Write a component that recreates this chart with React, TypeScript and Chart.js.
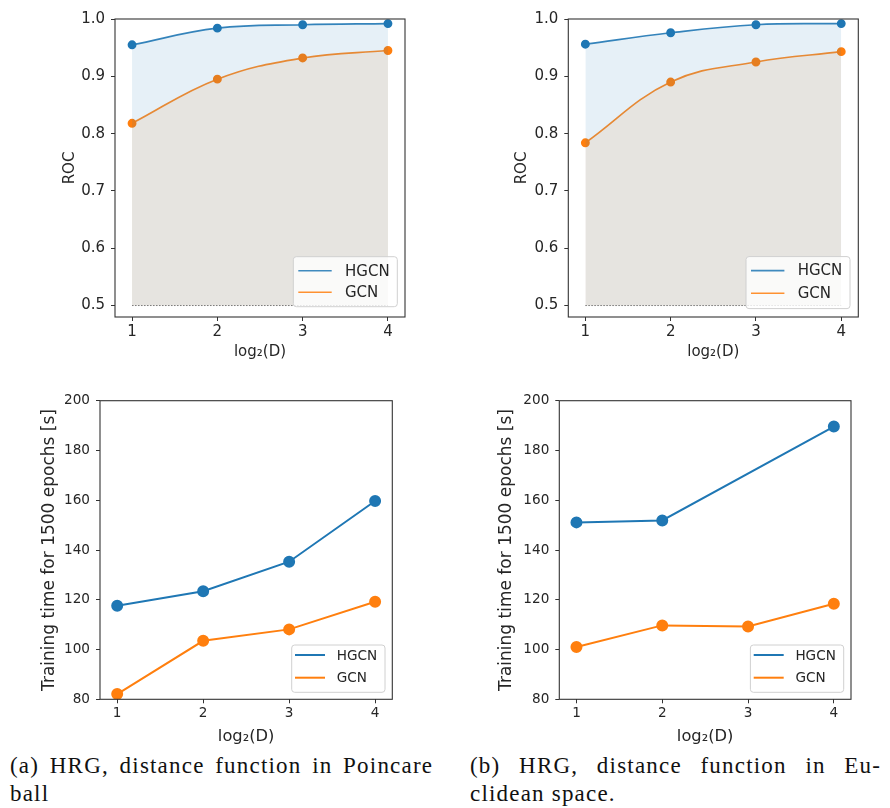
import React, { useEffect, useRef } from "react";
import { Chart, registerables } from "chart.js";

Chart.register(...registerables);

// ---------- data ----------
const dims = [1, 2, 3, 4];
const xTickValues = [1, 2, 3, 4];

const rocTicks = [0.5, 0.6, 0.7, 0.8, 0.9, 1.0];
const rocBaseline = [0.5, 0.5, 0.5, 0.5];
const rocPoincareHGCN = [0.955, 0.984, 0.99, 0.992];
const rocPoincareGCN = [0.818, 0.895, 0.932, 0.945];
const rocEuclidHGCN = [0.956, 0.976, 0.99, 0.992];
const rocEuclidGCN = [0.784, 0.89, 0.925, 0.943];

const timeTicks = [80, 100, 120, 140, 160, 180, 200];
const timePoincareHGCN = [117.6, 123.4, 135.3, 159.7];
const timePoincareGCN = [82.1, 103.5, 108.1, 119.2];
const timeEuclidHGCN = [151.1, 151.9, null, 189.6];
const timeEuclidGCN = [101.0, 109.7, 109.3, 118.4];

const seriesNames = ["HGCN", "GCN"];
const captionA = ["(a) HRG, distance function in Poincare", "ball"];
const captionB = ["(b) HRG, distance function in Eu-", "clidean space."];

const BLUE = "#1f77b4";
const ORANGE = "#ff7f0e";
const TXT = "#262626";
const FONT = "'DejaVu Sans', sans-serif";

type Panel = {
  left: number;
  top: number;
  width: number;
  height: number;
  area: { left: number; top: number; right: number; bottom: number };
  kind: "roc" | "time";
  hgcn: (number | null)[];
  gcn: (number | null)[];
  yTitle: string;
  yTitlePad: number;
  xTitlePad: number;
  tickFont: number;
  titleFont: number;
  xTitleFont: number;
  legend: {
    gapR: number;
    gapB: number;
    w: number;
    h: number;
    lineX0: number;
    lineX1: number;
    textX: number;
    row1: number;
    row2: number;
    lw: number;
  };
};

const panels: Panel[] = [
  {
    left: 0, top: 0, width: 445, height: 370,
    area: { left: 115, top: 19, right: 405, bottom: 317 },
    kind: "roc", hgcn: rocPoincareHGCN, gcn: rocPoincareGCN,
    yTitle: "ROC", yTitlePad: 61, xTitlePad: 9, tickFont: 15, titleFont: 15, xTitleFont: 15,
    legend: { gapR: 7.7, gapB: 10.3, w: 104, h: 50, lineX0: 5, lineX1: 38.4, textX: 51.7, row1: 14, row2: 35.6, lw: 1.6 },
  },
  {
    left: 445, top: 0, width: 445, height: 370,
    area: { left: 123.3, top: 19, right: 413.3, bottom: 317 },
    kind: "roc", hgcn: rocEuclidHGCN, gcn: rocEuclidGCN,
    yTitle: "ROC", yTitlePad: 68.5, xTitlePad: 9, tickFont: 15, titleFont: 15, xTitleFont: 15,
    legend: { gapR: 8.3, gapB: 8.4, w: 104, h: 52, lineX0: 5, lineX1: 38.4, textX: 51.7, row1: 14, row2: 36.6, lw: 1.6 },
  },
  {
    left: 0, top: 380, width: 445, height: 368,
    area: { left: 100, top: 20.7, right: 392.3, bottom: 319.3 },
    kind: "time", hgcn: timePoincareHGCN, gcn: timePoincareGCN,
    yTitle: "Training time for 1500 epochs [s]", yTitlePad: 39, xTitlePad: 1.5, tickFont: 13.6, titleFont: 17, xTitleFont: 16.3,
    legend: { gapR: 7.3, gapB: 7, w: 93.3, h: 47.3, lineX0: 3.3, lineX1: 33.3, textX: 45, row1: 10, row2: 32.7, lw: 2 },
  },
  {
    left: 445, top: 380, width: 445, height: 368,
    area: { left: 114.3, top: 20.7, right: 406, bottom: 319.3 },
    kind: "time", hgcn: timeEuclidHGCN, gcn: timeEuclidGCN,
    yTitle: "Training time for 1500 epochs [s]", yTitlePad: 51, xTitlePad: 1.5, tickFont: 13.6, titleFont: 17, xTitleFont: 16.3,
    legend: { gapR: 7.3, gapB: 7, w: 93.3, h: 47.3, lineX0: 3.3, lineX1: 33.3, textX: 45, row1: 10, row2: 32.7, lw: 2 },
  },
];

function toPoints(vals: (number | null)[]) {
  return dims.map((d, i) => ({ x: d, y: vals[i] }));
}

function ChartPanel({ p }: { p: Panel }) {
  const ref = useRef<HTMLCanvasElement | null>(null);
  useEffect(() => {
    const canvas = ref.current;
    if (!canvas) return;
    const isRoc = p.kind === "roc";
    const yTicks = isRoc ? rocTicks : timeTicks;
    const datasets: any[] = [];
    if (isRoc) {
      datasets.push({
        label: "baseline",
        data: toPoints(rocBaseline),
        borderColor: "#555555",
        borderWidth: 0.8,
        borderDash: [1.5, 1.5],
        pointRadius: 0,
        fill: false,
        tension: 0,
      });
      datasets.push({
        label: seriesNames[0],
        data: toPoints(p.hgcn),
        borderColor: "rgba(31,119,180,0.9)",
        backgroundColor: "rgba(31,119,180,0.11)",
        pointBackgroundColor: BLUE,
        pointBorderColor: BLUE,
        borderWidth: 1.7,
        pointRadius: 3.6,
        fill: { value: 0.5 },
        tension: 0.4,
      });
      datasets.push({
        label: seriesNames[1],
        data: toPoints(p.gcn),
        borderColor: "rgba(255,127,14,0.9)",
        backgroundColor: "rgba(255,127,14,0.11)",
        pointBackgroundColor: ORANGE,
        pointBorderColor: ORANGE,
        borderWidth: 1.7,
        pointRadius: 3.6,
        fill: { value: 0.5 },
        tension: 0.4,
      });
    } else {
      datasets.push({
        label: seriesNames[0],
        data: toPoints(p.hgcn),
        borderColor: BLUE,
        pointBackgroundColor: BLUE,
        pointBorderColor: BLUE,
        borderWidth: 2,
        pointRadius: 5,
        fill: false,
        spanGaps: true,
        tension: 0,
      });
      datasets.push({
        label: seriesNames[1],
        data: toPoints(p.gcn),
        borderColor: ORANGE,
        pointBackgroundColor: ORANGE,
        pointBorderColor: ORANGE,
        borderWidth: 2,
        pointRadius: 5,
        fill: false,
        tension: 0,
      });
    }

    const framePlugin = {
      id: "frameAndLegend",
      afterDatasetsDraw(chart: any) {
        const { ctx, chartArea: a } = chart;
        ctx.save();
        ctx.strokeStyle = "#333333";
        ctx.lineWidth = 1.1;
        ctx.strokeRect(a.left, a.top, a.right - a.left, a.bottom - a.top);
        // legend
        const L = p.legend;
        const bx = a.right - L.gapR - L.w;
        const by = a.bottom - L.gapB - L.h;
        ctx.beginPath();
        (ctx as any).roundRect(bx, by, L.w, L.h, 3);
        ctx.fillStyle = "rgba(255,255,255,0.8)";
        ctx.fill();
        ctx.strokeStyle = "#d0d0d0";
        ctx.lineWidth = 1;
        ctx.stroke();
        const rows = [L.row1, L.row2];
        const cols = isRoc ? ["rgba(31,119,180,0.85)", "rgba(255,127,14,0.85)"] : [BLUE, ORANGE];
        ctx.font = `${p.tickFont}px ${FONT}`;
        ctx.textBaseline = "middle";
        ctx.textAlign = "left";
        rows.forEach((r, i) => {
          ctx.strokeStyle = cols[i];
          ctx.lineWidth = L.lw;
          ctx.beginPath();
          ctx.moveTo(bx + L.lineX0, by + r);
          ctx.lineTo(bx + L.lineX1, by + r);
          ctx.stroke();
          ctx.fillStyle = TXT;
          ctx.fillText(seriesNames[i], bx + L.textX, by + r + 1);
        });
        ctx.restore();
      },
    };

    const chart = new Chart(canvas, {
      type: "line",
      data: { datasets },
      options: {
        animation: false,
        responsive: false,
        maintainAspectRatio: false,
        devicePixelRatio: 1,
        layout: {
          padding: {
            left: 0,
            top: p.area.top,
            right: p.width - p.area.right,
            bottom: 0,
          },
        },
        plugins: {
          legend: { display: false },
          tooltip: { enabled: false },
        },
        scales: {
          x: {
            type: "linear",
            min: 0.8,
            max: 4.2,
            afterFit: (s: any) => {
              s.height = p.height - p.area.bottom;
            },
            afterBuildTicks: (s: any) => {
              s.ticks = xTickValues.map((v) => ({ value: v }));
            },
            grid: {
              drawOnChartArea: false,
              drawTicks: true,
              tickLength: 4,
              tickWidth: 1,
              color: "#333333",
            },
            border: { display: false },
            ticks: {
              color: TXT,
              font: { family: FONT, size: p.tickFont },
              padding: 2,
              maxRotation: 0,
              callback: (v: any) => String(v),
            },
            title: {
              display: true,
              text: "log\u2082(D)",
              color: TXT,
              font: { family: FONT, size: p.xTitleFont },
              padding: { top: 0, bottom: p.xTitlePad },
            },
          },
          y: {
            type: "linear",
            min: isRoc ? 0.48 : 80,
            max: isRoc ? 1.0 : 200,
            afterFit: (s: any) => {
              s.width = p.area.left;
            },
            afterBuildTicks: (s: any) => {
              s.ticks = yTicks.map((v) => ({ value: v }));
            },
            grid: {
              drawOnChartArea: false,
              drawTicks: true,
              tickLength: 4,
              tickWidth: 1,
              color: "#333333",
            },
            border: { display: false },
            ticks: {
              color: TXT,
              font: { family: FONT, size: p.tickFont },
              padding: 6,
              callback: (v: any) => (isRoc ? Number(v).toFixed(1) : String(v)),
            },
            title: {
              display: true,
              text: p.yTitle,
              color: TXT,
              font: { family: FONT, size: p.titleFont },
              padding: { top: p.yTitlePad, bottom: 0 },
            },
          },
        },
      },
      plugins: [framePlugin],
    } as any);
    return () => chart.destroy();
  }, [p]);

  return (
    <canvas
      ref={ref}
      width={p.width}
      height={p.height}
      style={{
        position: "absolute",
        left: p.left,
        top: p.top,
        width: p.width,
        height: p.height,
      }}
    />
  );
}

function Caption({ lines, left, width, top }: { lines: string[]; left: number; width: number; top: number }) {
  const base: React.CSSProperties = {
    fontFamily: "'Liberation Serif', 'Times New Roman', serif",
    fontSize: 23,
    lineHeight: "28px",
    color: "#111",
    whiteSpace: "nowrap",
    letterSpacing: "1.2px",
  };
  return (
    <div style={{ position: "absolute", left, top, width }}>
      <div style={{ ...base, textAlign: "justify", textAlignLast: "justify", marginRight: -1.2 }}>{lines[0]}</div>
      <div style={{ ...base }}>{lines[1]}</div>
    </div>
  );
}

export default function App() {
  return (
    <div
      style={{
        position: "absolute",
        left: 0,
        top: 0,
        width: 890,
        height: 808,
        background: "#ffffff",
        overflow: "hidden",
      }}
    >
      {panels.map((p, i) => (
        <ChartPanel key={i} p={p} />
      ))}
      <Caption lines={captionA} left={10} width={422} top={752} />
      <Caption lines={captionB} left={470} width={410} top={752} />
    </div>
  );
}
